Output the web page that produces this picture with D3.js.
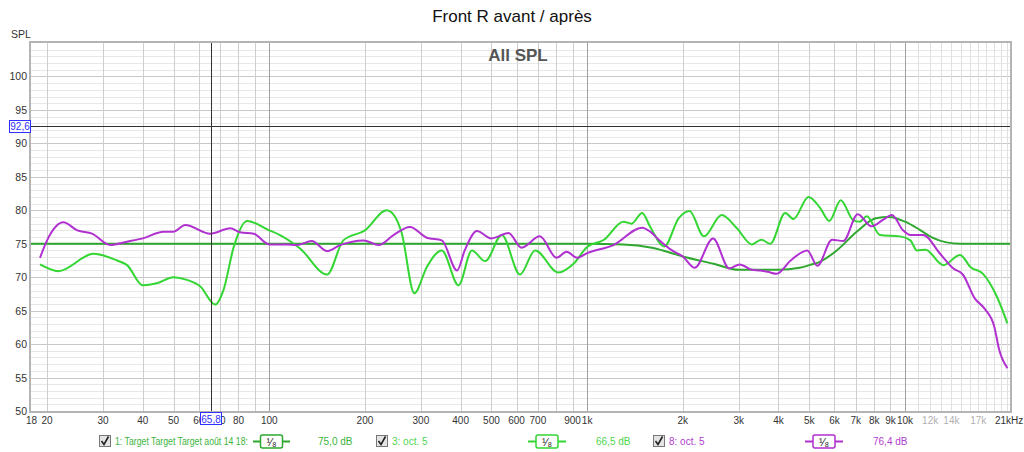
<!DOCTYPE html>
<meta charset="utf-8">
<style>
    body { margin: 0; background: #fff; }
    svg text { font-family: "Liberation Sans", Arial, sans-serif; }
    .grid line { shape-rendering: crispEdges; }
</style>
<svg width="1024" height="452"></svg>
<script src="https://d3js.org/d3.v7.min.js"></script>
<script>
    // target curve (Hz, dB)
    var targetFreq = [17.8, 1000, 1300, 1600, 2000, 2500, 3000, 4000, 4660, 5000, 5400, 6100, 7050, 8100, 8900, 10000, 11200, 12200, 13500, 15000, 21400];
    var targetDb   = [75.0, 75.0, 74.9, 74.4, 73.1, 72.0, 71.1, 71.1, 71.4, 71.8, 72.3, 74.0, 76.8, 78.8, 79.0, 78.3, 77.0, 75.9, 75.2, 75.0, 75.0];

    // "3: oct. 5" measurement, green
    var greenFreq = [19.0, 21.7, 28.0, 33.2, 35.7, 40, 44.3, 50, 55.1, 60.7, 67.6, 71.8, 77.3, 85.1, 100, 108, 125, 152, 171, 200, 234, 249, 261, 286, 313, 349, 394, 434, 478, 539, 615, 686, 812, 906, 1000, 1130, 1300, 1380, 1490, 1580, 1750, 1940, 2100, 2330, 2650, 2960, 3300, 3530, 3770, 4200, 4460, 4970, 5400, 5780, 6280, 6880, 7200, 7580, 8350, 9640, 10400, 10900, 11600, 13200, 14900, 16100, 17600, 19500, 21000];
    var greenDb   = [71.9, 70.9, 73.5, 72.5, 71.8, 68.8, 69.1, 70.0, 69.6, 68.6, 65.9, 68.1, 74.5, 78.4, 77.0, 76.3, 74.3, 70.4, 75.5, 77.0, 80.0, 79.0, 76.6, 67.6, 71.5, 74.0, 68.8, 74.0, 72.4, 76.3, 70.4, 74.0, 70.7, 72.0, 74.5, 75.6, 78.3, 78.0, 79.6, 77.5, 74.6, 78.8, 79.9, 76.1, 79.3, 77.3, 74.9, 75.6, 75.0, 79.6, 78.7, 82.0, 80.4, 78.4, 81.5, 78.5, 78.3, 79.1, 76.3, 76.1, 75.5, 74.0, 74.1, 71.8, 73.3, 71.5, 70.5, 67.0, 63.1];

    // "8: oct. 5" measurement, magenta
    var purpleFreq = [19.0, 20.0, 22.5, 24.9, 27.7, 31.6, 35.7, 40, 46.5, 50, 54.4, 65.2, 75.4, 81, 89.3, 100, 113.7, 122, 136, 152, 167, 198, 221, 246, 277, 313, 349, 390, 412, 450, 500, 566, 622, 710, 801, 862, 930, 1000, 1210, 1490, 1580, 1680, 1850, 2000, 2180, 2490, 2800, 3020, 3300, 3500, 3700, 3950, 4370, 4930, 5300, 5900, 6400, 7100, 7850, 8550, 9100, 9860, 10400, 11400, 12900, 14200, 15200, 16600, 17800, 19100, 19800, 21000];
    var purpleDb   = [72.9, 75.5, 78.2, 77.0, 76.5, 74.8, 75.3, 75.8, 76.8, 76.8, 77.8, 76.5, 77.3, 76.7, 76.5, 74.9, 74.9, 74.8, 75.4, 73.9, 74.8, 75.5, 74.8, 76.3, 77.5, 75.9, 75.5, 71.0, 74.0, 76.9, 75.8, 76.6, 74.4, 76.1, 72.9, 73.8, 72.9, 73.6, 74.8, 77.4, 76.8, 75.6, 74.0, 73.1, 71.4, 75.8, 71.3, 71.9, 71.1, 71.0, 70.8, 70.5, 72.5, 74.0, 71.7, 75.6, 75.4, 79.4, 77.6, 78.6, 79.3, 77.0, 76.3, 76.3, 73.5, 71.3, 70.4, 66.8, 65.3, 62.6, 59.1, 56.4];

    var xTickVals   = [18, 20, 30, 40, 50, 60, 70, 80, 100, 200, 300, 400, 500, 600, 700, 900, 1000, 2000, 3000, 4000, 5000, 6000, 7000, 8000, 9000, 10000, 12000, 14000, 17000, 21000];
    var xTickLabels = ["18", "20", "30", "40", "50", "60", "70", "80", "100", "200", "300", "400", "500", "600", "700", "900", "1k", "2k", "3k", "4k", "5k", "6k", "7k", "8k", "9k", "10k", "12k", "14k", "17k", "21kHz"];
    var yTickVals   = [50, 55, 60, 65, 70, 75, 80, 85, 90, 95, 100];

    var cursorHz = 65.8, cursorDb = 92.6;

    var svg = d3.select("svg");
    var pL = 31, pR = 1010, pT = 43, pB = 411;

    var x = d3.scaleLog().domain([17.8, 21400]).range([pL, pR]);
    var y = d3.scaleLinear().domain([50, 105]).range([pB, pT]);

    var grid = svg.append("g").attr("class", "grid");

    // horizontal grid, 1 dB minor, 5 dB major
    d3.range(51, 105).forEach(function(v) {
        grid.append("line")
            .attr("x1", pL).attr("x2", pR)
            .attr("y1", Math.round(y(v)) + 0.5).attr("y2", Math.round(y(v)) + 0.5)
            .attr("stroke", v % 5 == 0 ? "#c8c8c8" : "#e8e8e8");
    });

    // vertical grid
    var vLines = [];
    [10, 100, 1000].forEach(function(dec) {
        for (var k = 1; k <= 9; k++) vLines.push(dec * k);
    });
    for (var k = 10; k <= 21; k++) vLines.push(k * 1000);
    vLines.filter(function(f) { return f > 17.8 && f < 21400; }).forEach(function(f) {
        var major = (f == 100 || f == 1000 || f == 10000);
        grid.append("line")
            .attr("x1", Math.round(x(f)) + 0.5).attr("x2", Math.round(x(f)) + 0.5)
            .attr("y1", pT).attr("y2", pB)
            .attr("stroke", major ? "#a0a0a0" : (f > 10000 ? "#e0e0e0" : "#cfcfcf"));
    });

    // frame
    svg.append("rect")
        .attr("x", pL - 1).attr("y", pT - 1)
        .attr("width", pR - pL + 2).attr("height", pB - pT + 2)
        .attr("fill", "none").attr("stroke", "#b4b4b4").attr("stroke-width", 2);

    // y axis labels
    svg.append("g").selectAll("text")
        .data(yTickVals)
        .enter().append("text")
        .attr("x", 27).attr("y", function(d) { return y(d) + 4; })
        .attr("text-anchor", "end").attr("font-size", 10.5).attr("fill", "#333")
        .text(function(d) { return d; });
    svg.append("text").attr("x", 11).attr("y", 38).attr("font-size", 10.5).attr("fill", "#333").text("SPL");

    // x axis labels
    svg.append("g").selectAll("text")
        .data(xTickVals)
        .enter().append("text")
        .attr("x", function(d) { return d == 18 ? x(d) - 1 : (d == 21000 ? 995 : x(d)); })
        .attr("y", 424)
        .attr("text-anchor", function(d) { return d == 21000 ? "start" : "middle"; })
        .attr("font-size", 10)
        .attr("fill", function(d) { return (d > 10000 && d < 21000) ? "#b0b0b0" : "#333"; })
        .text(function(d, i) { return xTickLabels[i]; });

    // curves
    var line = d3.line()
        .x(function(d) { return x(d[0]); })
        .y(function(d) { return y(d[1]); })
        .curve(d3.curveMonotoneX);

    function pairs(f, v) { return f.map(function(fr, i) { return [fr, v[i]]; }); }

    svg.append("path").datum(pairs(targetFreq, targetDb))
        .attr("d", line).attr("fill", "none").attr("stroke", "#2ea82e").attr("stroke-width", 2);
    svg.append("path").datum(pairs(greenFreq, greenDb))
        .attr("d", line).attr("fill", "none").attr("stroke", "#33d633").attr("stroke-width", 2);
    svg.append("path").datum(pairs(purpleFreq, purpleDb))
        .attr("d", line).attr("fill", "none").attr("stroke", "#b030d0").attr("stroke-width", 2);

    // cursors
    svg.append("line")
        .attr("x1", pL).attr("x2", pR)
        .attr("y1", Math.round(y(cursorDb)) + 0.5).attr("y2", Math.round(y(cursorDb)) + 0.5)
        .attr("stroke", "#333").attr("stroke-width", 1);
    svg.append("line")
        .attr("x1", Math.round(x(cursorHz)) + 0.5).attr("x2", Math.round(x(cursorHz)) + 0.5)
        .attr("y1", pT).attr("y2", pB)
        .attr("stroke", "#333").attr("stroke-width", 1);

    svg.append("rect").attr("x", 9.5).attr("y", Math.round(y(cursorDb)) - 5.5).attr("width", 21).attr("height", 12)
        .attr("fill", "#fff").attr("stroke", "#3030ff");
    svg.append("text").attr("x", 20).attr("y", y(cursorDb) + 4).attr("text-anchor", "middle")
        .attr("font-size", 10).attr("fill", "#3030ff").text("92,6");
    svg.append("rect").attr("x", Math.round(x(cursorHz)) - 10.5).attr("y", 412.5).attr("width", 21).attr("height", 12)
        .attr("fill", "#fff").attr("stroke", "#3030ff");
    svg.append("text").attr("x", Math.round(x(cursorHz))).attr("y", 422.5).attr("text-anchor", "middle")
        .attr("font-size", 10).attr("fill", "#3030ff").text("65,8");

    // titles
    svg.append("text").attr("x", 512).attr("y", 22).attr("text-anchor", "middle")
        .attr("font-size", 17).attr("fill", "#111").text("Front R avant / après");
    svg.append("text").attr("x", 518).attr("y", 61).attr("text-anchor", "middle")
        .attr("font-size", 17).attr("font-weight", "bold").attr("fill", "#555").text("All SPL");

    // legend
    var legend = [
        {cx: 99, label: "1: Target Target Target août 14 18:", fit: 133, lx0: 253, lx1: 290, val: "75,0 dB", vx: 318, text: "#3cb43c", stroke: "#2ea82e"},
        {cx: 376, label: "3: oct. 5", fit: 0, lx0: 528, lx1: 566, val: "66,5 dB", vx: 596, text: "#4fd64f", stroke: "#33d633"},
        {cx: 653, label: "8: oct. 5", fit: 0, lx0: 805, lx1: 843, val: "76,4 dB", vx: 873, text: "#b040d0", stroke: "#b030d0"}
    ];
    var lg = svg.append("g").selectAll("g").data(legend).enter().append("g");
    lg.append("rect").attr("x", function(d) { return d.cx + 0.5; }).attr("y", 435.5).attr("width", 11).attr("height", 11)
        .attr("fill", "#e4e4e4").attr("stroke", "#777");
    lg.append("path").attr("d", function(d) { return "M" + (d.cx + 2.5) + ",441 l2.5,3.5 l4.5,-8"; })
        .attr("fill", "none").attr("stroke", "#222").attr("stroke-width", 1.6);
    lg.append("text").attr("x", function(d) { return d.cx + 16; }).attr("y", 445)
        .attr("font-size", 10).attr("fill", function(d) { return d.text; })
        .each(function(d) {
            if (d.fit) d3.select(this).attr("textLength", d.fit).attr("lengthAdjust", "spacingAndGlyphs");
        })
        .text(function(d) { return d.label; });
    lg.append("line").attr("x1", function(d) { return d.lx0; }).attr("x2", function(d) { return d.lx1; })
        .attr("y1", 441.5).attr("y2", 441.5).attr("stroke", function(d) { return d.stroke; }).attr("stroke-width", 2);
    lg.append("rect").attr("x", function(d) { return (d.lx0 + d.lx1) / 2 - 11; }).attr("y", 435)
        .attr("width", 22).attr("height", 13).attr("rx", 2)
        .attr("fill", "#fff").attr("stroke", function(d) { return d.stroke; }).attr("stroke-width", 1.5);
    lg.append("text").attr("x", function(d) { return (d.lx0 + d.lx1) / 2; }).attr("y", 445.5)
        .attr("text-anchor", "middle").attr("font-size", 11).attr("fill", "#222").text("¹⁄₈");
    lg.append("text").attr("x", function(d) { return d.vx; }).attr("y", 445)
        .attr("font-size", 10).attr("fill", function(d) { return d.text; }).text(function(d) { return d.val; });
</script>
